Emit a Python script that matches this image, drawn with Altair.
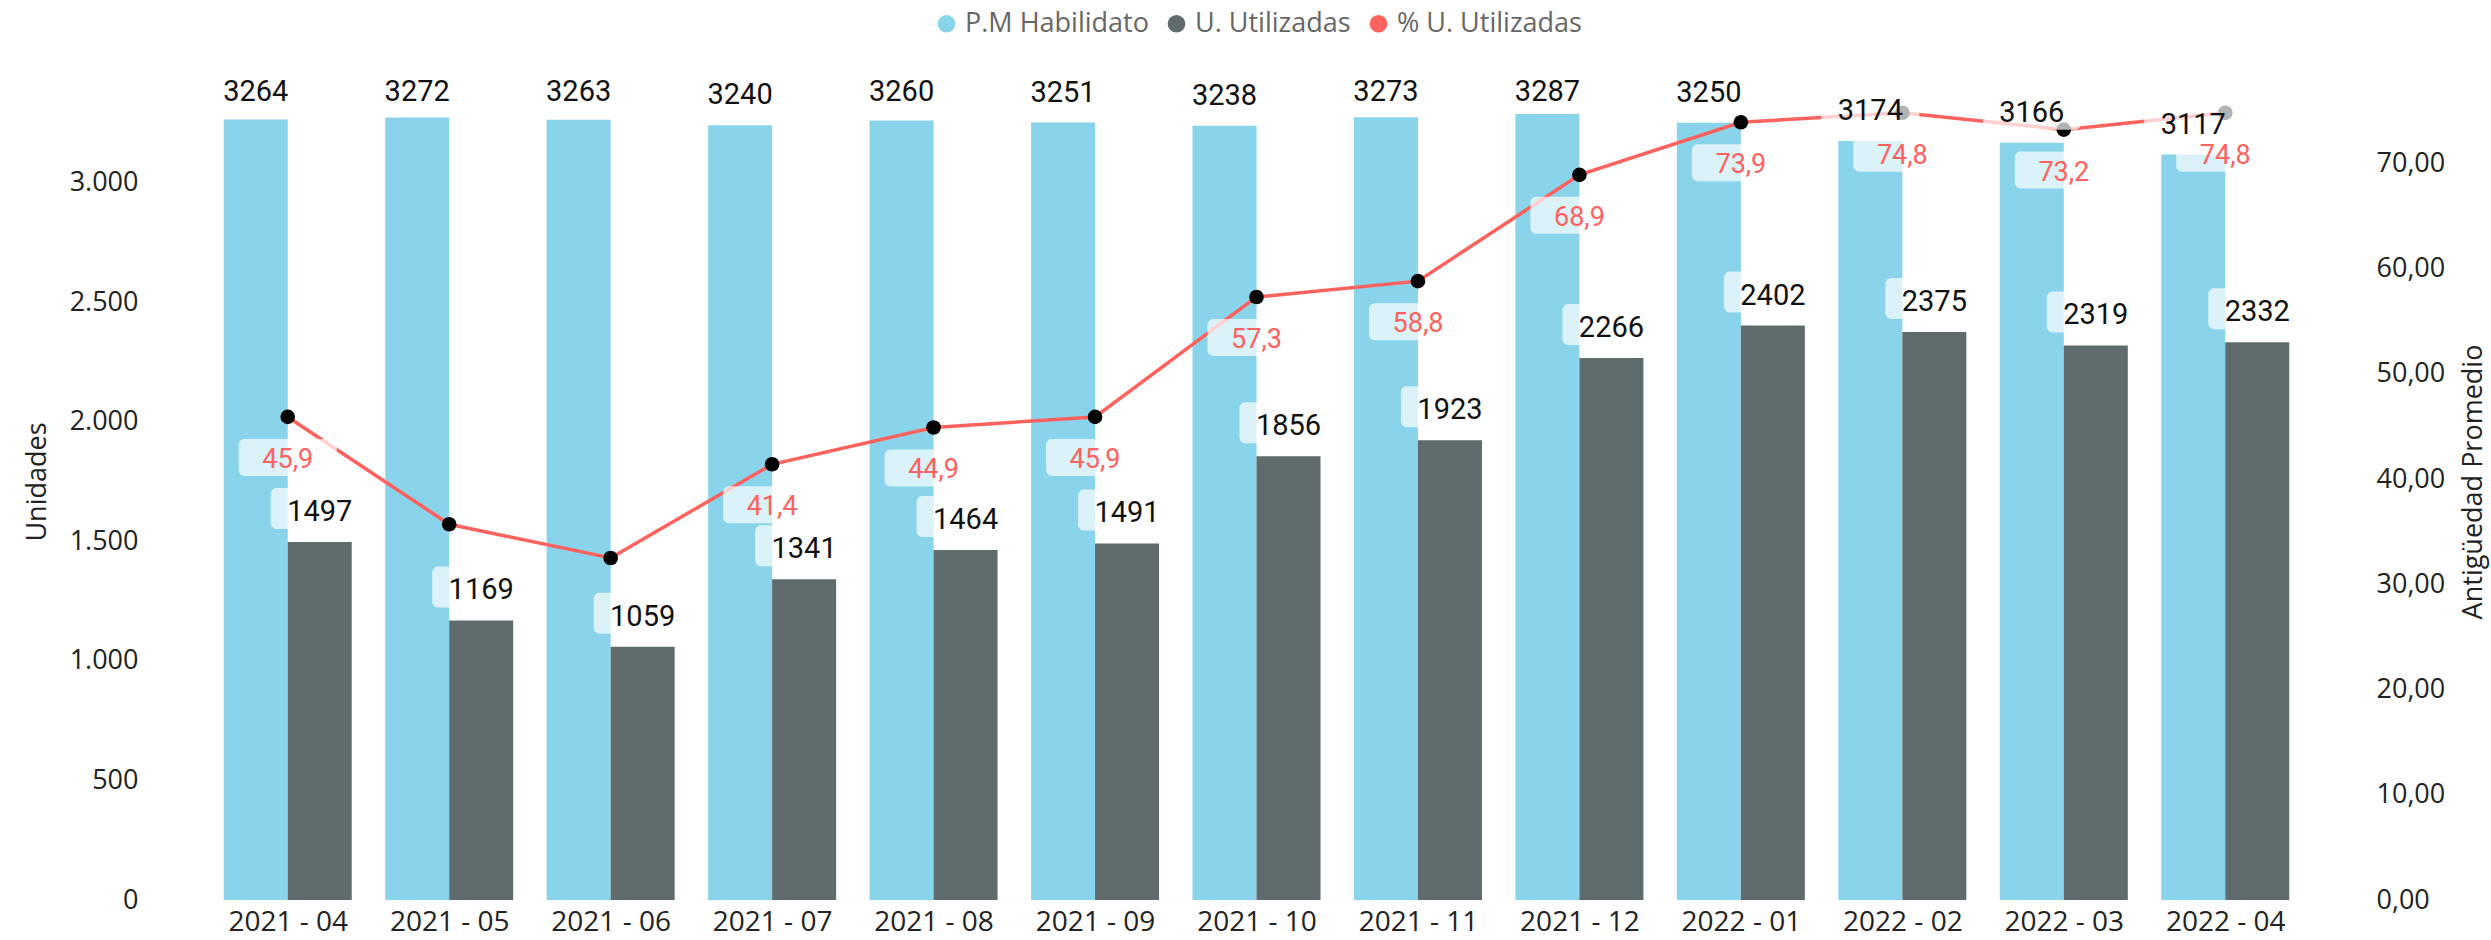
import altair as alt
import pandas as pd

# ---------------- data ----------------
months = ["2021 - 04", "2021 - 05", "2021 - 06", "2021 - 07", "2021 - 08", "2021 - 09",
          "2021 - 10", "2021 - 11", "2021 - 12", "2022 - 01", "2022 - 02", "2022 - 03", "2022 - 04"]
habilitado = [3264, 3272, 3263, 3240, 3260, 3251, 3238, 3273, 3287, 3250, 3174, 3166, 3117]
utilizadas = [1497, 1169, 1059, 1341, 1464, 1491, 1856, 1923, 2266, 2402, 2375, 2319, 2332]
pct_utilizadas = [45.9, 35.7, 32.5, 41.4, 44.9, 45.9, 57.3, 58.8, 68.9, 73.9, 74.8, 73.2, 74.8]
pct_label_shown = [True, False, False, True, True, True, True, True, True, True, True, True, True]

series_names = ["P.M Habilidato", "U. Utilizadas", "% U. Utilizadas"]
series_colors = ["#8AD4EB", "#5F6B6D", "#FD625E"]

# ---------------- style constants ----------------
BAR_W = 0.3964          # width of one bar, in category units
LABEL_CAP = 3252        # Power BI keeps top labels inside the plot area
AXIS_FONT = "Segoe UI, Open Sans, sans-serif"
DATA_FONT = "DIN, Roboto, sans-serif"

n = len(months)
rows = []
for i in range(n):
    rows.append(dict(idx=i, series=series_names[0], value=habilitado[i],
                     x0=i - BAR_W, x1=i, xc=i - BAR_W / 2,
                     label_y=min(habilitado[i], LABEL_CAP), label=str(habilitado[i])))
    rows.append(dict(idx=i, series=series_names[1], value=utilizadas[i],
                     x0=i, x1=i + BAR_W, xc=i + BAR_W / 2,
                     label_y=utilizadas[i], label=str(utilizadas[i])))
bars_df = pd.DataFrame(rows)

line_df = pd.DataFrame({
    "idx": list(range(n)),
    "pct": pct_utilizadas,
    "label": [f"{v:.1f}".replace(".", ",") for v in pct_utilizadas],
    "show": pct_label_shown,
})
line_lab_df = line_df[line_df["show"]]

# ---------------- scales / axes ----------------
x_scale = alt.Scale(domain=[-0.5, n - 0.5], nice=False, zero=False)
yL = alt.Scale(domain=[0, 3500], nice=False, zero=True)
yR = alt.Scale(domain=[0, 79.53], nice=False, zero=True)

month_expr = "[" + ",".join(f"'{m}'" for m in months) + "][datum.value]"

x_axis = alt.Axis(values=list(range(n)), labelExpr=month_expr, title=None, grid=False,
                  ticks=False, tickSize=0, domain=False, labelFont=AXIS_FONT, labelFontSize=28,
                  labelColor="#222222", labelPadding=8, labelFlush=False, labelOverlap=False)

left_axis = alt.Axis(orient="left", values=[0, 500, 1000, 1500, 2000, 2500, 3000],
                     labelExpr="replace(format(datum.value, ','), ',', '.')",
                     title="Unidades", grid=False, ticks=False, tickSize=0, domain=False,
                     labelFont=AXIS_FONT, labelFontSize=27, labelColor="#222222", labelPadding=69,
                     titleFont=AXIS_FONT, titleFontSize=27, titleFontWeight="normal",
                     titleColor="#222222", titlePadding=18)

right_axis = alt.Axis(orient="right", values=[0, 10, 20, 30, 40, 50, 60, 70],
                      labelExpr="replace(format(datum.value, '.2f'), '.', ',')",
                      title="Antigüedad Promedio", grid=False, ticks=False, tickSize=0, domain=False,
                      labelFont=AXIS_FONT, labelFontSize=27, labelColor="#222222", labelPadding=70,
                      titleFont=AXIS_FONT, titleFontSize=27, titleFontWeight="normal",
                      titleColor="#222222", titleAngle=270, titleBaseline="top", titlePadding=16)

legend = alt.Legend(orient="none", legendX=726, legendY=-53, direction="horizontal", title=None,
                    symbolType="circle", symbolSize=314, symbolStrokeWidth=0, symbolOpacity=1,
                    labelFont=AXIS_FONT, labelFontSize=27, labelColor="#666666", labelLimit=0,
                    labelOffset=5, columnPadding=14)

color_scale = alt.Scale(domain=series_names, range=series_colors)


def X(field):
    return alt.X(field, scale=x_scale, axis=x_axis, title=None)


base_bars = alt.Chart(bars_df)
base_line = alt.Chart(line_df)

bars = base_bars.mark_rect().encode(
    x=X("x0:Q"),
    x2="x1:Q",
    y=alt.Y("value:Q", scale=yL, axis=left_axis),
    y2=alt.datum(0),
    color=alt.Color("series:N", scale=color_scale, legend=legend),
)

line = base_line.mark_line(color="#FD625E", strokeWidth=3.5).encode(
    x=X("idx:Q"),
    y=alt.Y("pct:Q", scale=yR, axis=right_axis),
)

dots = base_line.mark_circle(size=214, color="#000000", opacity=1).encode(
    x=X("idx:Q"),
    y=alt.Y("pct:Q", scale=yR, axis=None),
)

bar_boxes = base_bars.mark_rect(fill="#FFFFFF", opacity=0.7, cornerRadius=6,
                                xOffset=-49, x2Offset=49, yOffset=-54, y2Offset=-13).encode(
    x=X("xc:Q"),
    x2="xc:Q",
    y=alt.Y("label_y:Q", scale=yL, axis=None),
    y2="label_y:Q",
)

line_boxes = alt.Chart(line_lab_df).mark_rect(fill="#FFFFFF", opacity=0.7, cornerRadius=6,
                                              xOffset=-49, x2Offset=49, yOffset=22, y2Offset=59).encode(
    x=X("idx:Q"),
    x2="idx:Q",
    y=alt.Y("pct:Q", scale=yR, axis=None),
    y2="pct:Q",
)

bar_text = base_bars.mark_text(font=DATA_FONT, fontSize=29, baseline="alphabetic", align="center",
                               dy=-21, color="#111111").encode(
    x=X("xc:Q"),
    y=alt.Y("label_y:Q", scale=yL, axis=None),
    text="label:N",
)

line_text = alt.Chart(line_lab_df).mark_text(font=DATA_FONT, fontSize=27, baseline="alphabetic",
                                             align="center", dy=51, color="#FD625E").encode(
    x=X("idx:Q"),
    y=alt.Y("pct:Q", scale=yR, axis=None),
    text="label:N",
)

chart = alt.layer(bars, line, dots, bar_boxes, line_boxes, bar_text, line_text).resolve_scale(
    y="independent"
).properties(
    width=2099, height=837,
    autosize=alt.AutoSizeParams(type="none"),
    padding={"left": 207, "top": 63, "right": 185, "bottom": 40},
    background="#FFFFFF",
).configure_view(stroke=None)

chart.save("out.html", embed_options={"renderer": "svg", "actions": False})
